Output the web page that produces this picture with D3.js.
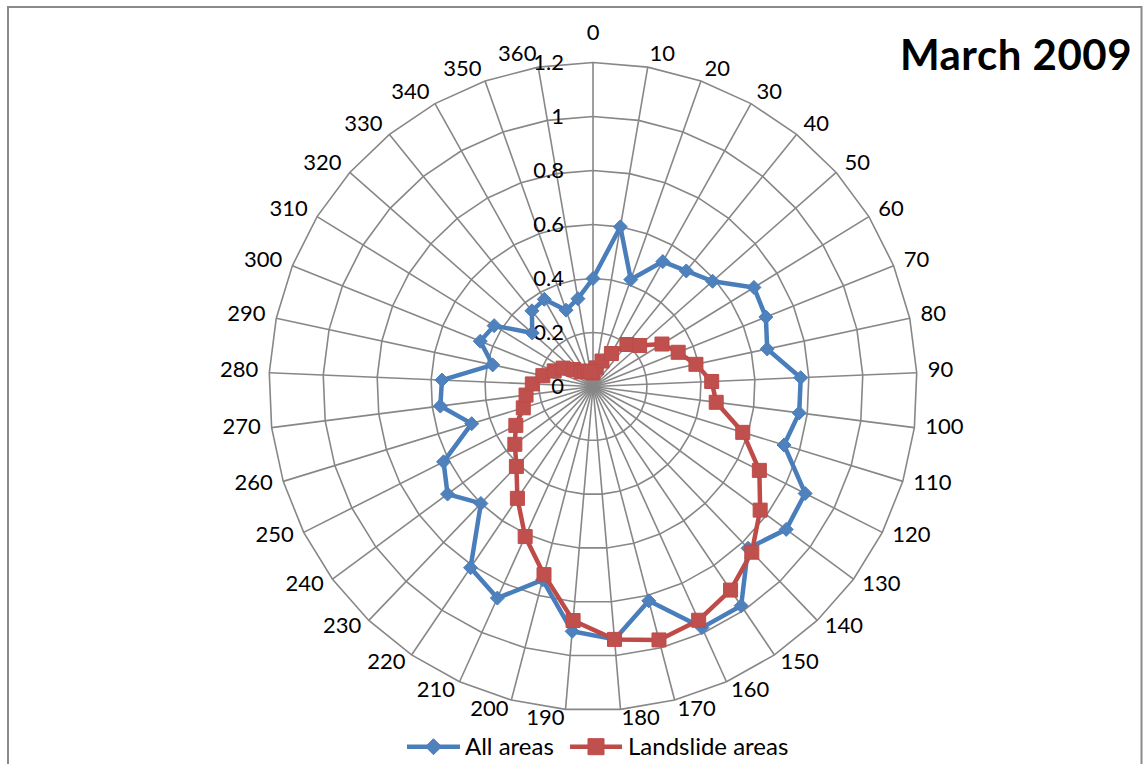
<!DOCTYPE html>
<html>
<head>
<meta charset="utf-8">
<script src="https://cdn.jsdelivr.net/npm/d3@7"></script>
<style>
  html, body { margin: 0; padding: 0; background: #fff; }
  svg { display: block; }
  text { font-family: Lato, "Noto Sans", sans-serif; fill: #000; }
</style>
</head>
<body>
<svg id="chart" width="1144" height="764"></svg>
<script>
// ---- data ----
const categories = ["0","10","20","30","40","50","60","70","80","90","100","110","120","130","140","150","160","170","180","190","200","210","220","230","240","250","260","270","280","290","300","310","320","330","340","350","360"];
const allAreas = [0.40,0.60,0.42,0.53,0.55,0.59,0.70,0.69,0.66,0.77,0.77,0.74,0.88,0.89,0.83,0.98,0.98,0.82,0.94,0.91,0.74,0.86,0.81,0.60,0.67,0.62,0.47,0.57,0.56,0.38,0.45,0.43,0.30,0.36,0.37,0.30,0.33];
const landslideAreas = [0.05,0.07,0.10,0.14,0.20,0.23,0.30,0.34,0.39,0.44,0.46,0.58,0.69,0.77,0.85,0.91,0.95,0.97,0.94,0.87,0.72,0.61,0.50,0.41,0.36,0.32,0.27,0.25,0.225,0.19,0.155,0.13,0.095,0.07,0.065,0.06,0.055];
const radialTicks = [0, 0.2, 0.4, 0.6, 0.8, 1, 1.2];
const radialTickLabels = ["0","0.2","0.4","0.6","0.8","1","1.2"];
const seriesNames = ["All areas", "Landslide areas"];
const title = "March 2009";

// ---- layout ----
const svg = d3.select("#chart");
const cx = 593, cy = 386.5, R = 324;
const gridColor = "#878787";
const blue = "#4A7EBB", blueFill = "#4F81BD";
const red = "#BE4B48", redFill = "#C0504D";

// chart border
svg.append("rect").attr("x", 8).attr("y", 7).attr("width", 1133.5).attr("height", 800)
  .attr("fill", "none").attr("stroke", "#8a8a8a").attr("stroke-width", 2);

const r = d3.scaleLinear().domain([0, 1.2]).range([0, R]);
const ang = d3.scaleLinear().domain([0, categories.length]).range([0, 2 * Math.PI]);
const idx = d3.range(categories.length);

const g = svg.append("g").attr("transform", `translate(${cx},${cy})`);

// rings (polygons)
const ringLine = d3.lineRadial().angle(i => ang(i)).curve(d3.curveLinearClosed);
radialTicks.filter(t => t > 0).forEach(t => {
  g.append("path").attr("d", ringLine.radius(() => r(t))(idx))
    .attr("fill", "none").attr("stroke", gridColor).attr("stroke-width", 1.6);
});
// spokes
g.selectAll("line.spoke").data(idx).join("line").attr("class", "spoke")
  .attr("x1", 0).attr("y1", 0)
  .attr("x2", i => d3.pointRadial(ang(i), r(1.2))[0])
  .attr("y2", i => d3.pointRadial(ang(i), r(1.2))[1])
  .attr("stroke", gridColor).attr("stroke-width", 1.6);

// radial tick labels
g.selectAll("text.rt").data(radialTicks).join("text").attr("class", "rt")
  .attr("x", -29).attr("y", d => -r(d)).attr("dy", "0.36em")
  .attr("text-anchor", "end").attr("font-size", 22)
  .text((d, i) => radialTickLabels[i]);

// category labels
const labR = 335;
g.selectAll("text.cat").data(idx).join("text").attr("class", "cat")
  .each(function(i) {
    const a = ang(i);
    const p = d3.pointRadial(a, labR);
    const s = Math.sin(a);
    const t = d3.select(this).attr("font-size", 22);
    if (Math.abs(s) < 1e-6) {
      t.attr("x", p[0]).attr("y", p[1] - 19).attr("text-anchor", "middle");
    } else {
      t.attr("x", p[0]).attr("y", p[1] - 3).attr("text-anchor", s > 0 ? "start" : "end");
    }
    t.attr("dy", "0.36em").text(categories[i]);
  });

// series
const seriesLine = d3.lineRadial().angle((d, i) => ang(i)).radius(d => r(d)).curve(d3.curveLinearClosed);
const diamond = "M0,-7L7,0L0,7L-7,0Z";

function drawSeries(values, color, fill, marker) {
  g.append("path").attr("d", seriesLine(values))
    .attr("fill", "none").attr("stroke", color).attr("stroke-width", 4.5)
    .attr("stroke-linejoin", "round");
  g.selectAll(null).data(values).join("path")
    .attr("transform", (d, i) => {
      const p = d3.pointRadial(ang(i), r(d));
      return `translate(${p[0]},${p[1]})`;
    })
    .attr("d", marker).attr("fill", fill).attr("stroke", color).attr("stroke-width", 1);
}
drawSeries(allAreas, blue, blueFill, diamond);
drawSeries(landslideAreas, red, redFill, "M-7,-7H7V7H-7Z");

// title
svg.append("text").attr("x", 1132).attr("y", 69.5).attr("text-anchor", "end")
  .attr("font-size", 42).attr("font-weight", "bold").attr("letter-spacing", 0.5).text(title);

// legend
const ly = 746.7;
const leg = svg.append("g");
leg.append("line").attr("x1", 407).attr("x2", 460).attr("y1", ly).attr("y2", ly)
  .attr("stroke", blue).attr("stroke-width", 4.5);
leg.append("path").attr("transform", `translate(433.5,${ly})`).attr("d", "M0,-8L8,0L0,8L-8,0Z")
  .attr("fill", blueFill).attr("stroke", blue);
leg.append("text").attr("x", 465).attr("y", ly).attr("dy", "0.36em").attr("font-size", 24).text(seriesNames[0]);
leg.append("line").attr("x1", 570).attr("x2", 622).attr("y1", ly).attr("y2", ly)
  .attr("stroke", red).attr("stroke-width", 4.5);
leg.append("path").attr("transform", `translate(596,${ly})`).attr("d", "M-8,-8H8V8H-8Z")
  .attr("fill", redFill).attr("stroke", red);
leg.append("text").attr("x", 628).attr("y", ly).attr("dy", "0.36em").attr("font-size", 24).text(seriesNames[1]);
</script>
</body>
</html>
